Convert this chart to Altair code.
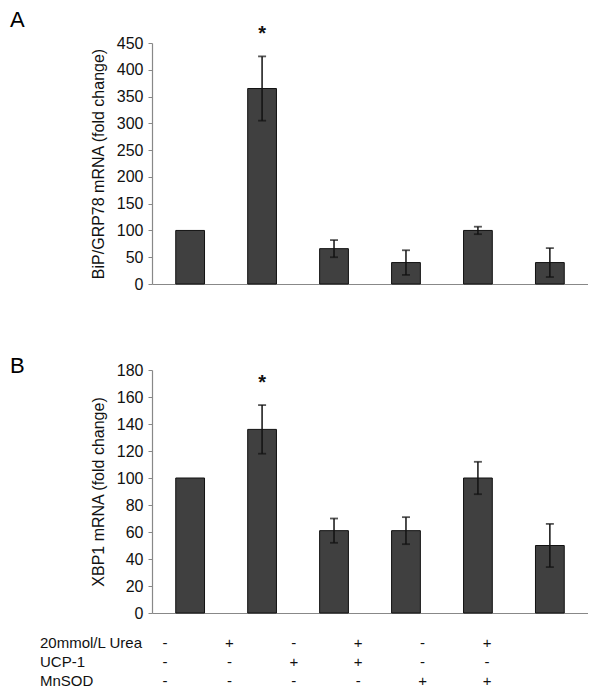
import altair as alt
import pandas as pd

FONT = "Liberation Sans"

conditions = ["c1", "c2", "c3", "c4", "c5", "c6"]
bip_mean = [100, 365, 66, 40, 100, 40]
bip_err = [0, 60, 16, 23, 7, 27]
xbp_mean = [100, 136, 61, 61, 100, 50]
xbp_err = [0, 18, 9, 10, 12, 16]
star_condition = "c2"

row_labels = ["20mmol/L Urea", "UCP-1", "MnSOD"]
urea = ["-", "+", "-", "+", "-", "+"]
ucp1 = ["-", "-", "+", "+", "-", "-"]
mnsod = ["-", "-", "-", "-", "+", "+"]

W = 436


def panel(means, errs, ymax, ystep, ytitle, letter, height, letter_y):
    df = pd.DataFrame({"cond": conditions, "mean": means, "err": errs})
    df["lo"] = df["mean"] - df["err"]
    df["hi"] = df["mean"] + df["err"]
    base = alt.Chart(df)
    xscale = alt.Scale(paddingInner=0.6, paddingOuter=0.33)
    xaxis = alt.Axis(labels=False, ticks=False, title=None,
                     domainColor="#888888", domainWidth=1.2)
    xenc = alt.X("cond:N", sort=conditions, scale=xscale, axis=xaxis)
    yscale = alt.Scale(domain=[0, ymax], nice=False)
    yaxis = alt.Axis(values=list(range(0, ymax + 1, ystep)), grid=False,
                     labelOverlap=False,
                     domainColor="#888888", tickColor="#888888",
                     domainWidth=1.2, tickSize=4, labelPadding=5,
                     labelFontSize=16, titleFontSize=16,
                     titleFontWeight="normal", titlePadding=10,
                     labelColor="#111111", titleColor="#111111",
                     title=ytitle)

    def yenc(field):
        return alt.Y(field, scale=yscale, axis=yaxis)

    bars = base.mark_bar(color="#404040", stroke="#111111", strokeWidth=1).encode(
        x=xenc, y=yenc("mean:Q"))
    ebase = base.transform_filter(alt.datum.err > 0)
    rules = ebase.mark_rule(color="#111111", strokeWidth=1.5).encode(
        x=xenc, y=yenc("lo:Q"), y2="hi:Q")
    cap_hi = ebase.mark_tick(color="#111111", thickness=1.8, size=8).encode(
        x=xenc, y=yenc("hi:Q"))
    cap_lo = ebase.mark_tick(color="#111111", thickness=1.8, size=8).encode(
        x=xenc, y=yenc("lo:Q"))
    star = base.transform_filter(alt.datum.cond == star_condition).mark_text(
        text="*", fontSize=20, fontWeight="bold", dy=-22, baseline="middle",
        font=FONT, color="#111111"
    ).encode(x=xenc, y=yenc("hi:Q"))
    lab = alt.Chart(pd.DataFrame({"t": [letter]})).mark_text(
        fontSize=22, align="left", baseline="middle", font=FONT, color="#000000"
    ).encode(text="t:N", x=alt.value(-142), y=alt.value(letter_y))
    return alt.layer(bars, rules, cap_hi, cap_lo, star, lab).properties(
        width=W, height=height)


chart_a = panel(bip_mean, bip_err, 450, 50, "BiP/GRP78 mRNA (fold change)", "A", 241, -23)
chart_b = panel(xbp_mean, xbp_err, 180, 20, "XBP1 mRNA (fold change)", "B", 243, -4)

rows = []
for lbl, vals in zip(row_labels, [urea, ucp1, mnsod]):
    for c, v in zip(conditions, vals):
        rows.append({"row": lbl, "cond": c, "sym": v})
tdf = pd.DataFrame(rows)
ldf = pd.DataFrame({"row": row_labels})

yrow = alt.Y("row:N", sort=row_labels, axis=None,
             scale=alt.Scale(type="point", range=[273, 311], padding=0))
syms = alt.Chart(tdf).mark_text(fontSize=15, font=FONT, color="#111111",
                                baseline="middle").encode(
    x=alt.X("cond:N", sort=conditions, axis=None,
            scale=alt.Scale(type="point", range=[13, 335], padding=0)),
    y=yrow, text="sym:N")
rlabels = alt.Chart(ldf).mark_text(fontSize=15, font=FONT, color="#111111",
                                   align="left", baseline="middle").encode(
    x=alt.value(-112), y=yrow, text="row:N")
table = alt.layer(syms, rlabels)

chart_b_full = alt.layer(chart_b, table).resolve_scale(x="independent", y="independent")

chart = alt.vconcat(chart_a, chart_b_full, spacing=63).properties(
    padding={"left": 2, "top": 1, "right": 0, "bottom": 0}
).configure_view(stroke=None).configure_axis(
    labelFont=FONT, titleFont=FONT
).configure_text(font=FONT)

chart.save("out.html", embed_options={"renderer": "svg", "actions": False})
